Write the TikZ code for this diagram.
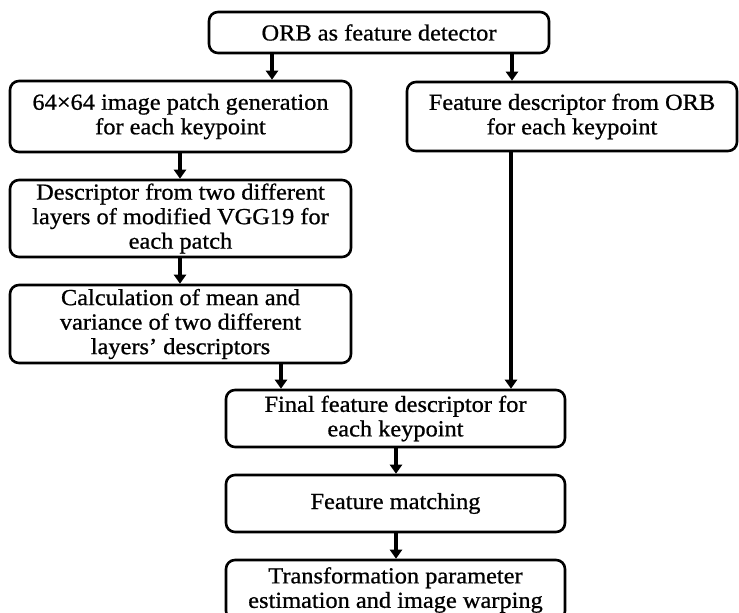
\documentclass[tikz,border=0pt]{standalone}
\usepackage{fontspec}
\setmainfont{Liberation Serif}[FakeStretch=1.06,FakeBold=0.8]
\usetikzlibrary{arrows.meta}
\tikzset{
  box/.style={draw=black, line width=2.6pt, rounded corners=9pt, align=center,
    inner sep=2pt, font=\fontsize{23}{24.5}\selectfont, text=black},
  arr/.style={line width=4pt, -{Triangle[length=9pt,width=12pt]}}
}
\begin{document}
\begin{tikzpicture}[x=1pt,y=-1pt]
\useasboundingbox (0,0) rectangle (739,613);
\fill[white] (0,0) rectangle (739,613);
\node[box, minimum width=340pt, minimum height=41pt] (orb) at (379,32.5) {ORB as feature detector};
\node[box, minimum width=341pt, minimum height=71pt] (patch) at (180.5,116.5) {64×64 image patch generation\\for each keypoint};
\node[box, minimum width=330pt, minimum height=69pt] (orbdesc) at (572,116.5) {Feature descriptor from ORB\\for each keypoint};
\node[box, minimum width=341pt, minimum height=77pt] (vgg) at (180.5,218.5) {Descriptor from two different\\layers of modified VGG19 for\\each patch};
\node[box, minimum width=341pt, minimum height=78pt] (mean) at (180.5,324) {Calculation of mean and\\variance of two different\\layers’ descriptors};
\node[box, minimum width=339pt, minimum height=57pt] (final) at (395.5,418.5) {Final feature descriptor for\\each keypoint};
\node[box, minimum width=339pt, minimum height=57pt] (match) at (395.5,503.5) {Feature matching};
\node[box, minimum width=339pt, minimum height=60pt] (trans) at (395.5,590) {Transformation parameter\\estimation and image warping};
\draw[arr] (272,0 |- orb.south) -- (272,0 |- patch.north);
\draw[arr] (512,0 |- orb.south) -- (512,0 |- orbdesc.north);
\draw[arr] (180,0 |- patch.south) -- (180,0 |- vgg.north);
\draw[arr] (180,0 |- vgg.south) -- (180,0 |- mean.north);
\draw[arr] (281,0 |- mean.south) -- (281,0 |- final.north);
\draw[arr] (511,0 |- orbdesc.south) -- (511,0 |- final.north);
\draw[arr] (396,0 |- final.south) -- (396,0 |- match.north);
\draw[arr] (396,0 |- match.south) -- (396,0 |- trans.north);
\end{tikzpicture}
\end{document}
